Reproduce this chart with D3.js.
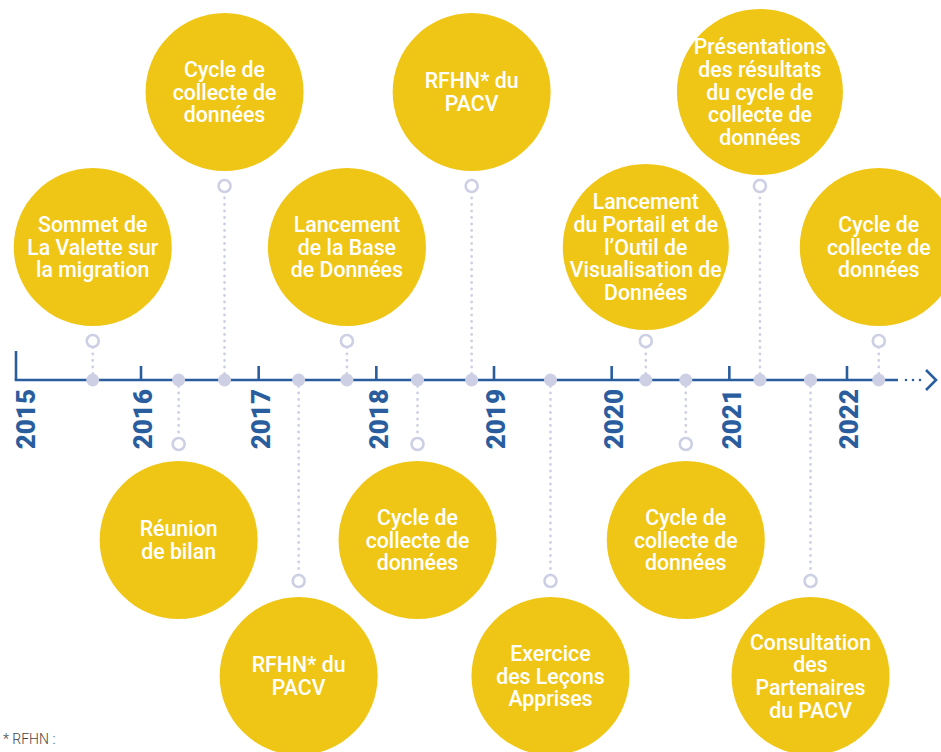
<!DOCTYPE html>
<html>
<head>
<meta charset="utf-8">
<script src="https://cdn.jsdelivr.net/npm/d3@7"></script>
<style>
  body { margin: 0; background: #fff; }
  svg { display: block; font-family: Roboto, "Noto Sans", sans-serif; }
</style>
</head>
<body>
<div id="timeline"></div>
<script>
// years shown on the axis
const years = [2015, 2016, 2017, 2018, 2019, 2020, 2021, 2022];

// event dates (fractional years), which lane they sit in, and the label lines
const eventDates = [2015.59, 2016.32, 2016.71, 2017.34, 2017.75, 2018.35, 2018.81,
                    2019.48, 2020.29, 2020.63, 2021.26, 2021.69, 2022.27];
const eventLanes = ["up1", "down1", "up2", "down2", "up1", "down1", "up2",
                    "down2", "up1", "down1", "up2", "down2", "up1"];
const eventLabels = [
  ["Sommet de", "La Valette sur", "la migration"],
  ["Réunion", "de bilan"],
  ["Cycle de", "collecte de", "données"],
  ["RFHN* du", "PACV"],
  ["Lancement", "de la Base", "de Données"],
  ["Cycle de", "collecte de", "données"],
  ["RFHN* du", "PACV"],
  ["Exercice", "des Leçons", "Apprises"],
  ["Lancement", "du Portail et de", "l’Outil de", "Visualisation de", "Données"],
  ["Cycle de", "collecte de", "données"],
  ["Présentations", "des résultats", "du cycle de", "collecte de", "données"],
  ["Consultation", "des", "Partenaires", "du PACV"],
  ["Cycle de", "collecte de", "données"]
];
const footnote = "* RFHN :";

const width = 941, height = 752;
const axisY = 380, axisStart = 16;
const blue = "#2a5d9e", yellow = "#f0c616", lilac = "#cdd0e4";

// ring y and bubble centre y for each lane
const lanes = {
  up1:   { ring: 341, cy: 247 },
  up2:   { ring: 186, cy: 92 },
  down1: { ring: 444, cy: 540 },
  down2: { ring: 581, cy: 676 }
};

const events = eventDates.map((d, i) => ({ date: d, lane: lanes[eventLanes[i]], lines: eventLabels[i] }));

const x = d3.scaleLinear().domain([2016, 2022]).range([141, 847]);

const svg = d3.select("#timeline").append("svg").attr("width", width).attr("height", height);

// dotted connectors
svg.selectAll("line.conn").data(events).join("line")
  .attr("class", "conn")
  .attr("x1", d => x(d.date)).attr("x2", d => x(d.date))
  .attr("y1", axisY).attr("y2", d => d.lane.ring)
  .attr("stroke", lilac).attr("stroke-width", 2.8)
  .attr("stroke-linecap", "round").attr("stroke-dasharray", "0 6.5");

// bubbles
const bubble = svg.selectAll("g.bubble").data(events).join("g").attr("class", "bubble");
bubble.append("circle")
  .attr("cx", d => x(d.date)).attr("cy", d => d.lane.cy)
  .attr("r", d => d.lines.length >= 5 ? 83 : 79)
  .attr("fill", yellow);
bubble.append("text")
  .attr("fill", "#fff").attr("font-size", 21.3).attr("font-weight", 500)
  .attr("text-anchor", "middle")
  .selectAll("tspan").data(d => d.lines.map((t, i) => ({ t, i, n: d.lines.length, d }))).join("tspan")
  .attr("x", e => x(e.d.date))
  .attr("y", e => e.d.lane.cy + (e.i - (e.n - 1) / 2) * 22.6)
  .attr("dy", "0.36em")
  .text(e => e.t);

// rings at the end of the connectors
svg.selectAll("circle.ring").data(events).join("circle")
  .attr("class", "ring")
  .attr("cx", d => x(d.date)).attr("cy", d => d.lane.ring).attr("r", 6)
  .attr("fill", "#fff").attr("stroke", lilac).attr("stroke-width", 2.6);

// axis line, start tick, year ticks and arrow
svg.append("line").attr("x1", axisStart - 1.3).attr("x2", 898).attr("y1", axisY).attr("y2", axisY)
  .attr("stroke", blue).attr("stroke-width", 2.6);
svg.append("line").attr("x1", axisStart).attr("x2", axisStart).attr("y1", axisY).attr("y2", 351)
  .attr("stroke", blue).attr("stroke-width", 2.6);
svg.selectAll("line.tick").data(years.slice(1)).join("line")
  .attr("class", "tick")
  .attr("x1", d => x(d)).attr("x2", d => x(d))
  .attr("y1", axisY).attr("y2", 366)
  .attr("stroke", blue).attr("stroke-width", 2.6);
svg.append("line").attr("x1", 906).attr("x2", 921).attr("y1", axisY).attr("y2", axisY)
  .attr("stroke", blue).attr("stroke-width", 2.6)
  .attr("stroke-linecap", "round").attr("stroke-dasharray", "0 7");
svg.append("path").attr("d", `M926,370 L936,380 L926,390`)
  .attr("fill", "none").attr("stroke", blue).attr("stroke-width", 2.6);

// event dots on the axis
svg.selectAll("circle.dot").data(events).join("circle")
  .attr("class", "dot")
  .attr("cx", d => x(d.date)).attr("cy", axisY).attr("r", 6.5)
  .attr("fill", lilac);

// year labels
svg.selectAll("text.year").data(years).join("text")
  .attr("class", "year")
  .attr("transform", d => `translate(${x(d) + 2},389) rotate(-90)`)
  .attr("text-anchor", "end").attr("dy", "0.36em")
  .attr("font-size", 26).attr("font-weight", 900).attr("fill", blue)
  .text(d => d);

svg.append("text").attr("x", 3).attr("y", 744)
  .attr("font-size", 14).attr("font-weight", 300).attr("fill", "#444")
  .text(footnote);
</script>
</body>
</html>
